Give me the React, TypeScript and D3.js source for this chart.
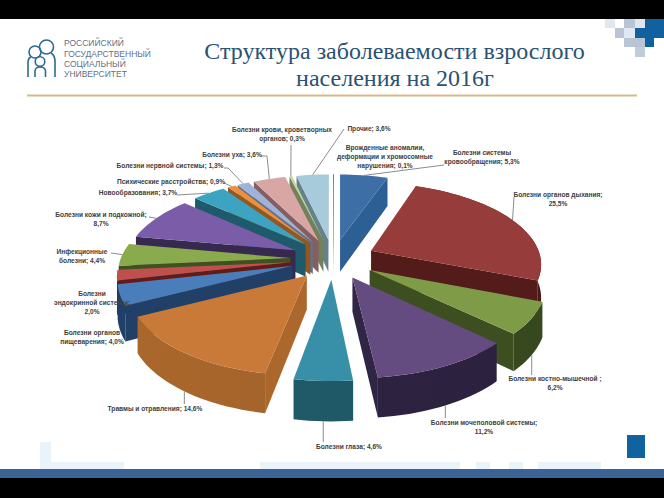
import React from "react";
import * as d3 from "d3";

const categories = [
  "Врожденные аномалии",
  "Болезни системы кровообращения",
  "Болезни органов дыхания",
  "Болезни костно-мышечной",
  "Болезни мочеполовой системы",
  "Болезни глаза",
  "Травмы и отравления",
  "Болезни органов пищеварения",
  "Болезни эндокринной системы",
  "Инфекционные болезни",
  "Болезни кожи и подкожной",
  "Новообразования",
  "Психические расстройства",
  "Болезни нервной системы",
  "Болезни уха",
  "Болезни крови, кроветворных органов",
  "Прочие",
];
const values = [0.1, 5.3, 25.5, 6.2, 11.2, 4.6, 14.6, 4.0, 2.0, 4.4, 8.7, 3.7, 0.9, 1.3, 3.6, 0.3, 3.6];

const topColors = [
  "#3f6fa8", "#3d6ea6", "#963d3c", "#7e9c48", "#654c80", "#378fa8", "#c97a38", "#4a7ebb", "#c0504d",
  "#8aaa4e", "#7a5ca8", "#3ca3c0", "#ee8f3a", "#9db4d8", "#d9a6a6", "#c4d49c", "#a8cbdc",
];
const wallColors = [
  "#2b5480", "#2a5a8c", "#4f1a18", "#3a4a1f", "#2d2340", "#1f5866", "#a2622a", "#1f3d63", "#5c1a18",
  "#3d4d1f", "#33264a", "#1c5466", "#8a5220", "#5a6c88", "#7e5a5a", "#6d7a55", "#5f7a85",
];

const labelLines = [
  ["Врожденные аномалии,", "деформации и хромосомные", "нарушения; 0,1%"],
  ["Болезни системы", "кровообращения; 5,3%"],
  ["Болезни органов дыхания;", "25,5%"],
  ["Болезни костно-мышечной ;", "6,2%"],
  ["Болезни мочеполовой системы;", "11,2%"],
  ["Болезни глаза; 4,6%"],
  ["Травмы и отравления; 14,6%"],
  ["Болезни органов", "пищеварения; 4,0%"],
  ["Болезни", "эндокринной системы;", "2,0%"],
  ["Инфекционные", "болезни; 4,4%"],
  ["Болезни кожи и подкожной;", "8,7%"],
  ["Новообразования; 3,7%"],
  ["Психические расстройства; 0,9%"],
  ["Болезни нервной системы; 1,3%"],
  ["Болезни уха; 3,6%"],
  ["Болезни крови, кроветворных", "органов; 0,3%"],
  ["Прочие; 3,6%"],
];
const labelCenters = [385, 482, 558, 555, 484, 349, 155, 92, 92, 82, 101, 138, 171, 170, 232, 282, 369];
const labelBaselines = [150, 155, 197, 381, 425, 449, 411, 335, 296, 254, 217, 195, 184, 168, 157, 132, 131];
// where each leader leaves its label, null when the label has none
const leaderStarts: ([number, number][] | null)[] = [
  null,
  [[444, 165]],
  [[514, 197]],
  null,
  null,
  null,
  null,
  null,
  null,
  [[111, 253]],
  [[149, 217]],
  [[177, 195]],
  [[224, 183]],
  [[224, 168], [228, 168]],
  [[261, 156], [267, 156]],
  [[291, 145]],
  [[344, 129]],
];
// front slices hang a plain vertical leader down to the label, this is where it stops
const dropLeaderEnds: [number, number][] = [
  [3, 375],
  [4, 418],
  [5, 442],
  [6, 404],
];

const width = 664;
const height = 498;
const cx = 333;
const cy = 259;
const radiusX = 170;
const radiusY = 80;
const perspective = 0.145;
const explode = 0.25;
const depth = 33;

const project = (wx: number, wy: number, z = 0): [number, number] => {
  const p = 1 / (1 + perspective * wy);
  return [cx + radiusX * wx * p, cy - radiusY * wy * p + z * depth * p];
};

const pie = d3.pie<number>().sort(null).value((d) => d);
const arcs = pie(values);
const line = d3.line();

const sliceGeometry = arcs.map((a, i) => {
  const mid = (a.startAngle + a.endAngle) / 2;
  const ox = explode * Math.sin(mid);
  const oy = explode * Math.cos(mid);
  const rim = (t: number, z = 0) => project(ox + Math.sin(t), oy + Math.cos(t), z);
  const steps = Math.max(2, Math.ceil((a.endAngle - a.startAngle) / 0.04));
  const angles = d3.range(steps + 1).map((s) => a.startAngle + ((a.endAngle - a.startAngle) * s) / steps);
  return { i, mid, ox, oy, rim, angles, apex: (z = 0) => project(ox, oy, z) };
});

const paintOrder = [...sliceGeometry].sort((a, b) => b.oy - a.oy);

// walls are a bit lighter toward the lower left of the pie
const shade = d3
  .scaleLinear<number>()
  .domain([0, (Math.PI * 4) / 3, 2 * Math.PI])
  .range([-0.3, 0.15, -0.3]);

const Slice = ({ s }: { s: (typeof sliceGeometry)[number] }) => {
  const top = topColors[s.i];
  const wall = wallColors[s.i];
  const first = s.angles[0];
  const last = s.angles[s.angles.length - 1];
  // polygonArea comes out negative when the points run clockwise on screen, i.e. the face looks at us
  const faces: [number, number][][] = [
    [s.rim(first), s.apex(), s.apex(1), s.rim(first, 1)],
    [s.apex(), s.rim(last), s.rim(last, 1), s.apex(1)],
  ];
  const topPts: [number, number][] = [s.apex(), ...s.angles.map((t) => s.rim(t))];
  const wallPts: [number, number][] = [
    ...s.angles.map((t) => s.rim(t)),
    ...[...s.angles].reverse().map((t) => s.rim(t, 1)),
  ];
  const wallFacing = d3.pairs(s.angles).some(
    ([t0, t1]) => d3.polygonArea([s.rim(t0), s.rim(t0, 1), s.rim(t1, 1), s.rim(t1)]) < 0
  );
  const gradId = `wall-${s.i}`;
  const [x0] = s.rim(first);
  const [x1] = s.rim(last);
  return (
    <g aria-label={categories[s.i]}>
      <defs>
        <linearGradient id={gradId} gradientUnits="userSpaceOnUse" x1={x0} x2={x1} y1={0} y2={0}>
          <stop offset="0" stopColor={d3.color(wall)!.brighter(shade(first)).formatHex()} />
          <stop offset="1" stopColor={d3.color(wall)!.brighter(shade(last)).formatHex()} />
        </linearGradient>
      </defs>
      {faces
        .filter((f) => d3.polygonArea(f) < 0)
        .map((f, k) => (
          <path key={k} d={line(f) + "Z"} fill={d3.color(wall)!.brighter(0.15).formatHex()} />
        ))}
      {wallFacing && <path d={line(wallPts) + "Z"} fill={`url(#${gradId})`} />}
      <path d={line(topPts) + "Z"} fill={top} />
    </g>
  );
};

const decorPale: [number, number, number, number][] = [
  [40, 442, 11, 27],
  [51, 462, 73, 7],
  [260, 462, 200, 7],
  [476, 462, 14, 7],
  [509, 462, 14, 7],
  [538, 462, 63, 7],
];
const cornerCells: [number, number, number, number, string][] = [
  [605, 19, 10, 9, "#e4e6ee"],
  [624, 19, 11, 9, "#b8c4d4"],
  [635, 19, 10, 9, "#dfe5ee"],
  [645, 19, 19, 9, "#11619e"],
  [615, 28, 9, 10, "#b9c5d5"],
  [624, 28, 11, 10, "#e0e8f4"],
  [635, 28, 29, 10, "#11619e"],
  [624, 38, 21, 9, "#b9c5d5"],
  [645, 38, 9, 9, "#11619e"],
  [635, 47, 10, 10, "#c0cbdc"],
];
const logoLines = ["РОССИЙСКИЙ", "ГОСУДАРСТВЕННЫЙ", "СОЦИАЛЬНЫЙ", "УНИВЕРСИТЕТ"];
const logoY = [46, 56.5, 67, 77];

export default function App() {
  return (
    <svg
      width={width}
      height={height}
      viewBox={`0 0 ${width} ${height}`}
      style={{ position: "fixed", left: 0, top: 0, background: "#fff" }}
    >
      <rect x={0} y={0} width={width} height={19} fill="#000" />
      <rect x={0} y={478} width={width} height={20} fill="#000" />
      <rect x={0} y={469} width={width} height={9} fill="#3a6496" />
      {decorPale.map(([x, y, w, h], i) => (
        <rect key={i} x={x} y={y} width={w} height={h} fill="#eaf3fa" />
      ))}
      {cornerCells.map(([x, y, w, h, c], i) => (
        <rect key={i} x={x} y={y} width={w} height={h} fill={c} />
      ))}
      <rect x={627} y={435} width={18} height={23} fill="#0f639f" />
      <rect x={27} y={94.5} width={610} height={2} fill="#dcb78a" />

      <g fill="none" stroke="#2d6a8f" strokeWidth={1.6}>
        <circle cx={35} cy={52} r={6} />
        <circle cx={46.5} cy={47} r={7} />
        <circle cx={40} cy={61.5} r={4.8} />
        <path d="M28 77 V63 Q28 58 31 57" />
        <path d="M55 77 V62 Q55 55 51 53" />
        <path d="M35 77 V71 Q35.5 67 40 67 Q45 67 45.5 71 V77" />
      </g>
      <g fontFamily="'Liberation Sans', sans-serif" fontSize={8.5} fill="#5f7186">
        {logoLines.map((t, i) => (
          <text key={t} x={64} y={logoY[i]}>
            {t}
          </text>
        ))}
      </g>

      <g fontFamily="'Liberation Serif', serif" fontSize={24} fill="#2a5272" textAnchor="middle">
        <text x={394.5} y={59}>Структура заболеваемости взрослого</text>
        <text x={395} y={86}>населения на 2016г</text>
      </g>

      {paintOrder.map((s) => (
        <Slice key={s.i} s={s} />
      ))}

      <g fill="none" stroke="#8c8c8c" strokeWidth={1}>
        {leaderStarts.map((start, i) => {
          if (!start) return null;
          return <path key={i} d={line([...start, sliceGeometry[i].rim(sliceGeometry[i].mid)]) ?? ""} />;
        })}
        {dropLeaderEnds.map(([i, y]) => {
          const end = sliceGeometry[i].rim(sliceGeometry[i].mid, 1);
          return <path key={i} d={line([end, [end[0], y]]) ?? ""} />;
        })}
      </g>

      <g fontFamily="'Liberation Sans', sans-serif" fontSize={6.6} fontWeight={700} fill="#404040" textAnchor="middle">
        {labelLines.map((lines, i) => (
          <text key={i} x={labelCenters[i]} y={labelBaselines[i]}>
            {lines.map((l, k) => (
              <tspan key={k} x={labelCenters[i]} dy={k === 0 ? 0 : 9.2}>
                {l}
              </tspan>
            ))}
          </text>
        ))}
      </g>
    </svg>
  );
}
